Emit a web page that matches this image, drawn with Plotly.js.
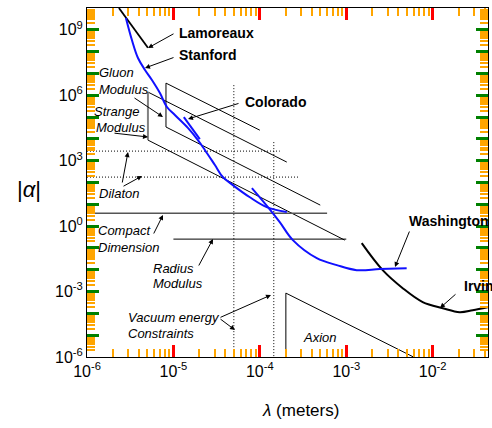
<!DOCTYPE html>
<html>
<head>
<meta charset="utf-8">
<script src="https://cdn.plot.ly/plotly-3.0.1.min.js"></script>
<style>html,body{margin:0;padding:0;background:#fff;}#chart{width:492px;height:428px;}</style>
</head>
<body>
<div id="chart"></div>
<script>
// ---- data (lambda in meters, |alpha|) ----
const lamoreauxX = [2.34e-6, 5.07e-6];
const lamoreauxY = [1e10, 1.5e8];
const stanfordX = [2.82e-6, 3.31e-6, 3.89e-6, 4.69e-6, 5.64e-6, 6.98e-6, 8.41e-6, 1.04e-5, 1.47e-5, 1.92e-5, 2.31e-5, 3.02e-5, 3.73e-5, 4.87e-5, 7.66e-5, 1.20e-4, 2.05e-4];
const stanfordY = [3.5e9, 3.4e8, 5.1e7, 1.45e7, 5.0e6, 1.26e6, 2.9e5, 1.24e5, 3.2e4, 8.8e3, 3.1e3, 630, 178, 76, 21, 7.4, 4.4];
const coloradoX = [1.32e-5, 1.64e-5, 2.02e-5];
const coloradoY = [1.0e5, 3.2e4, 9.8e3];
const washingtonX = [8.09e-5, 1.24e-4, 1.70e-4, 2.41e-4, 4.56e-4, 7.77e-4, 1.32e-3, 2.44e-3, 5.00e-3];
const washingtonY = [55, 7.4, 1.52, 0.228, 0.034, 0.0163, 9.6e-3, 0.0107, 0.0118];
const irvineX = [1.51e-3, 2.64e-3, 4.50e-3, 7.66e-3, 1.31e-2, 2.05e-2, 2.90e-2, 4.33e-2];
const irvineY = [0.166, 9.6e-3, 1.43e-3, 3.3e-4, 1.73e-4, 1.14e-4, 1.40e-4, 1.92e-4];
const gluonX = [1e-4, 8.2e-6, 8.2e-6, 5e-4];
const gluonY = [2.5e4, 3.6e6, 3.5e4, 9.2];
const strangeTopX = [5.07e-6, 2.05e-4];
const strangeTopY = [1.4e6, 863];
const strangeBotX = [5.07e-6, 9.6e-4];
const strangeBotY = [8.8e3, 0.228];
const strangeEdgeX = [5.07e-6, 5.07e-6];
const strangeEdgeY = [1.4e6, 8.8e3];
const dilatonHiX = [1e-6, 1.7e-4];
const dilatonHiY = [2750, 2750];
const dilatonLoX = [1e-6, 2.9e-4];
const dilatonLoY = [177, 177];
const compactX = [1e-6, 6e-4];
const compactY = [3.9, 3.9];
const radiusX = [1e-5, 1e-3];
const radiusY = [0.254, 0.254];
const vacuum1X = [5e-5, 5e-5];
const vacuum1Y = [2.9e6, 1e-6];
const vacuum2X = [1.45e-4, 1.45e-4];
const vacuum2Y = [7.1e3, 1e-6];
const axionX = [2e-4, 2e-4, 6e-3];
const axionY = [1e-6, 8.5e-4, 1e-6];
const xTickVals = [1e-6, 1e-5, 1e-4, 1e-3, 1e-2];
const xTickText = ['10<sup>-6</sup>', '10<sup>-5</sup>', '10<sup>-4</sup>', '10<sup>-3</sup>', '10<sup>-2</sup>'];
const yTickVals = [1e-6,1e-5,1e-4,1e-3,1e-2,1e-1,1,1e1,1e2,1e3,1e4,1e5,1e6,1e7,1e8,1e9,1e10];
const yTickText = ['10<sup>-6</sup>','','','10<sup>-3</sup>','','','10<sup>0</sup>','','','10<sup>3</sup>','','','10<sup>6</sup>','','','10<sup>9</sup>',''];
const minorDigits = [2, 3, 4, 5, 6, 7, 8, 9];

// minor tick positions: digits 2..9 in every decade
function minorVals(decades) {
  const out = [];
  decades.forEach(function (d) { minorDigits.forEach(function (k) { out.push(k * d); }); });
  return out;
}

const BLUE = '#1010ff';
const DOT = '1px,2px';
function ln(x, y, color, width, dash, smooth) {
  return {x: x, y: y, type: 'scatter', mode: 'lines', hoverinfo: 'skip',
          line: {color: color, width: width, dash: dash || 'solid', shape: smooth ? 'spline' : 'linear', smoothing: 1}};
}
const traces = [
  ln(gluonX, gluonY, '#000', 1),
  ln(strangeTopX, strangeTopY, '#000', 1),
  ln(strangeBotX, strangeBotY, '#000', 1),
  ln(strangeEdgeX, strangeEdgeY, '#808080', 2),
  ln(dilatonHiX, dilatonHiY, '#000', 1, DOT),
  ln(dilatonLoX, dilatonLoY, '#000', 1, DOT),
  ln(compactX, compactY, '#555', 1.5),
  ln(radiusX, radiusY, '#000', 1),
  ln(vacuum1X, vacuum1Y, '#000', 1, DOT),
  ln(vacuum2X, vacuum2Y, '#000', 1, DOT),
  ln(axionX, axionY, '#000', 1),
  ln(lamoreauxX, lamoreauxY, '#000', 1.8),
  ln(irvineX, irvineY, '#000', 2, null, true),
  ln(stanfordX, stanfordY, BLUE, 2, null, true),
  ln(coloradoX, coloradoY, BLUE, 2),
  ln(washingtonX, washingtonY, BLUE, 2, null, true)
];

// pixel helpers for annotation placement
const L = 87, R = 488, T = 8, B = 357;
const XR = [-6, -1.36], YR = [-6, 10];
function lx(p) { return XR[0] + (p - L) * (XR[1] - XR[0]) / (R - L); }
function ly(p) { return YR[1] - (p - T) * (YR[1] - YR[0]) / (B - T); }
function pxp(p) { return (p - L) / (R - L); }
function pyp(p) { return (B - p) / (B - T); }

const FONT = 'Liberation Sans, Arial, Helvetica, sans-serif';
const anns = [];
function label(text, x, y, bold, size) {
  anns.push({xref: 'paper', yref: 'paper', x: pxp(x), y: pyp(y), xanchor: 'left', yanchor: 'middle',
    text: bold ? '<b>' + text + '</b>' : '<i>' + text + '</i>', showarrow: false,
    font: {family: FONT, size: size || (bold ? 14 : 13), color: '#000'}});
}
function arrow(x0, y0, x1, y1) {
  anns.push({xref: 'x', yref: 'y', axref: 'x', ayref: 'y', x: lx(x1), y: ly(y1), ax: lx(x0), ay: ly(y0),
    text: '', showarrow: true, arrowhead: 2, arrowsize: 1, arrowwidth: 1, arrowcolor: '#000', standoff: 0, startstandoff: 0});
}
label('Lamoreaux', 177, 33, true);
label('Stanford', 177, 55, true);
label('Colorado', 243, 102, true);
label('Washington', 407, 221, true);
label('Irvine', 462, 286, true);
label('Gluon', 97, 73);
label('Modulus', 97, 90);
label('Strange', 92, 112);
label('Modulus', 94, 127);
label('Dilaton', 97, 193);
label('Compact', 96, 230);
label('Dimension', 96, 247);
label('Radius', 151, 268);
label('Modulus', 151, 283);
label('Vacuum energy', 126, 317);
label('Constraints', 126, 333);
label('Axion', 301, 337);
arrow(175, 33, 148, 48);
arrow(175, 57, 145, 68);
arrow(240, 103, 188, 119);
arrow(410, 230, 395, 267);
arrow(457, 293, 440, 308);
arrow(133, 97, 163, 117);
arrow(113, 133, 148, 137);
arrow(122, 184, 128, 152);
arrow(122, 187, 142, 176);
arrow(153, 235, 163, 215);
arrow(198, 267, 213, 239);
arrow(219, 318, 271, 295);
arrow(219, 318, 235, 330);
// axis titles
anns.push({xref: 'paper', yref: 'paper', x: pxp(29), y: pyp(189), xanchor: 'center', yanchor: 'middle',
  text: '|<i>α</i>|', showarrow: false, font: {family: FONT, size: 22, color: '#000'}});
anns.push({xref: 'paper', yref: 'paper', x: pxp(300), y: pyp(411), xanchor: 'center', yanchor: 'middle',
  text: '<i>λ</i> (meters)', showarrow: false, font: {family: FONT, size: 17, color: '#000'}});

// DIAGNOSTIC: ticks coloured and long to check whether they render at all
const layout = {
  width: 492, height: 428,
  margin: {l: L, r: 492 - R, t: T, b: 428 - B},
  showlegend: false,
  font: {family: FONT, color: 'black'},
  xaxis: {type: 'log', range: XR, tickmode: 'array', tickvals: xTickVals, ticktext: xTickText,
    ticks: 'inside', ticklen: 12, tickwidth: 3, tickcolor: 'red',
    showline: true, linecolor: 'black', linewidth: 1, mirror: 'ticks',
    showgrid: false, tickfont: {family: FONT, size: 16, color: 'black'},
    minor: {tickmode: 'array', tickvals: minorVals([1e-6, 1e-5, 1e-4, 1e-3, 1e-2]),
      ticks: 'inside', ticklen: 8, tickwidth: 2, tickcolor: 'orange'}},
  yaxis: {type: 'log', range: YR, tickmode: 'array', tickvals: yTickVals, ticktext: yTickText,
    ticks: 'inside', ticklen: 12, tickwidth: 3, tickcolor: 'green',
    showline: true, linecolor: 'black', linewidth: 1, mirror: 'ticks',
    showgrid: false, tickfont: {family: FONT, size: 16, color: 'black'},
    minor: {tickmode: 'array', tickvals: minorVals(yTickVals),
      ticks: 'inside', ticklen: 8, tickwidth: 2, tickcolor: 'orange'}},
  annotations: anns
};
Plotly.newPlot('chart', traces, layout, {displayModeBar: false, staticPlot: true});
</script>
</body>
</html>
